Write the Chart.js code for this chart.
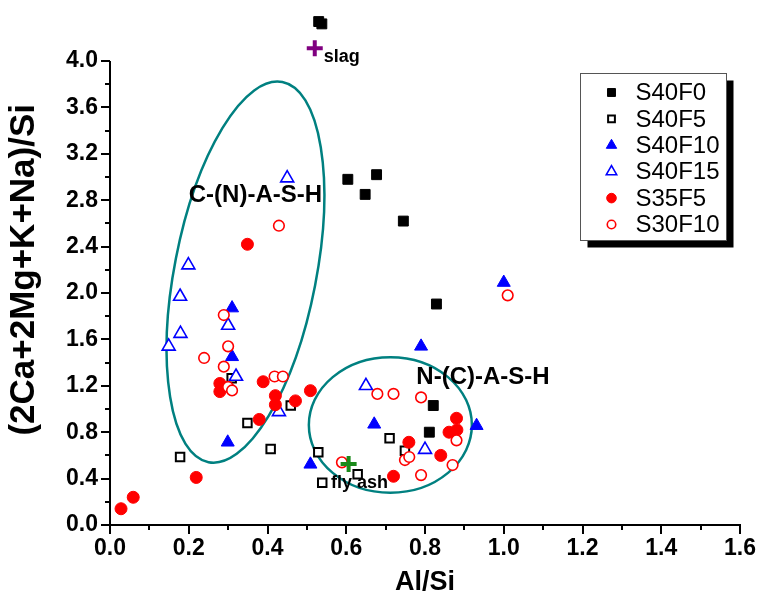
<!DOCTYPE html>
<html>
<head>
<meta charset="utf-8">
<script src="https://cdn.jsdelivr.net/npm/chart.js@4.4.1/dist/chart.umd.min.js"></script>
<style>
  html, body { margin: 0; padding: 0; background: #fff; }
  canvas { display: block; }
</style>
</head>
<body>
<canvas id="chart" width="766" height="602"></canvas>
<script>
// values (Al/Si vs (2Ca+2Mg+K+Na)/Si)
const s40f0X = [0.530, 0.538, 0.604, 0.677, 0.648, 0.745, 0.829, 0.821, 0.811];
const s40f0Y = [4.34, 4.32, 2.98, 3.02, 2.85, 2.62, 1.905, 1.03, 0.80];

const s40f5X = [0.178, 0.349, 0.408, 0.459, 0.309, 0.529, 0.539, 0.629, 0.710, 0.749];
const s40f5Y = [0.586, 0.88, 0.655, 1.03, 1.265, 0.627, 0.365, 0.437, 0.747, 0.64];

const s40f10X = [0.310, 0.310, 0.299, 0.509, 0.671, 0.79, 1.0, 0.931];
const s40f10Y = [1.87, 1.45, 0.713, 0.523, 0.868, 1.54, 2.09, 0.856];

const s40f15X = [0.45, 0.199, 0.178, 0.179, 0.149, 0.30, 0.32, 0.429, 0.65, 0.80];
const s40f15Y = [2.99, 2.24, 1.97, 1.65, 1.54, 1.72, 1.28, 0.975, 1.20, 0.65];

const s35f5X = [0.349, 0.279, 0.279, 0.389, 0.42, 0.42, 0.471, 0.509, 0.379, 0.219, 0.059, 0.028, 0.759, 0.84, 0.72, 0.88, 0.861, 0.881];
const s35f5Y = [2.42, 1.22, 1.15, 1.235, 1.115, 1.037, 1.07, 1.158, 0.91, 0.41, 0.239, 0.14, 0.713, 0.60, 0.42, 0.92, 0.80, 0.82];

const s30f10X = [0.429, 0.289, 0.30, 0.239, 0.289, 0.30, 0.31, 0.418, 0.439, 0.589, 0.679, 0.72, 0.79, 0.88, 0.749, 0.76, 0.87, 0.79, 1.01];
const s30f10Y = [2.58, 1.81, 1.54, 1.44, 1.365, 1.19, 1.16, 1.28, 1.28, 0.54, 1.13, 1.13, 1.10, 0.73, 0.56, 0.586, 0.517, 0.43, 1.98];

// raw materials
const slagPoint = [0.52, 4.11];
const flyAshPoint = [0.606, 0.526];

// labels
const seriesNames = ['S40F0', 'S40F5', 'S40F10', 'S40F15', 'S35F5', 'S30F10'];
const textLabels = ['C-(N)-A-S-H', 'N-(C)-A-S-H', 'slag', 'fly ash'];
const textX = [0.20, 0.778, 0.543, 0.561];
const textY = [2.84, 1.276, 4.03, 0.362];

// gel regions: centre x, centre y, radius (x units), radius (y units), tilt in degrees
const ellipseCx = [0.344, 0.712];
const ellipseCy = [2.18, 0.862];
const ellipseRx = [0.180, 0.207];
const ellipseRy = [1.669, 0.584];
const ellipseTilt = [11, 0];

// axis: start, end, labelled step. y room above 4.0 keeps the top points visible
const xTicks = [0.0, 1.6, 0.2];
const yTicks = [0.0, 4.0, 0.4];
const yRoom = 4.4;

function pts(xs, ys) {
    return xs.map((x, i) => ({ x: x, y: ys[i] }));
}

const styles = [
    { pointStyle: 'rect', radius: 7, bg: '#000', border: '#000', bw: 1 },
    { pointStyle: 'rect', radius: 6, bg: '#fff', border: '#000', bw: 2 },
    { pointStyle: 'triangle', radius: 7.5, bg: '#0000ff', border: '#0000ff', bw: 1 },
    { pointStyle: 'triangle', radius: 7.5, bg: '#fff', border: '#0000ff', bw: 1.6 },
    { pointStyle: 'circle', radius: 6, bg: '#ff0000', border: '#ff0000', bw: 1 },
    { pointStyle: 'circle', radius: 5.3, bg: '#fff', border: '#ff0000', bw: 1.6 }
];
const seriesData = [
    pts(s40f0X, s40f0Y),
    pts(s40f5X, s40f5Y),
    pts(s40f10X, s40f10Y),
    pts(s40f15X, s40f15Y),
    pts(s35f5X, s35f5Y),
    pts(s30f10X, s30f10Y)
];

const datasets = seriesNames.map((name, i) => ({
    label: name,
    data: seriesData[i],
    pointStyle: styles[i].pointStyle,
    pointRadius: styles[i].radius,
    pointBackgroundColor: styles[i].bg,
    pointBorderColor: styles[i].border,
    pointBorderWidth: styles[i].bw,
    showLine: false,
    clip: false,
    order: seriesNames.length - i + 1
}));

datasets.push({
    label: 'slag',
    data: [{ x: slagPoint[0], y: slagPoint[1] }],
    pointStyle: 'cross',
    pointRadius: 8,
    pointBorderColor: '#800080',
    pointBorderWidth: 4,
    clip: false,
    order: 0
});
datasets.push({
    label: 'fly ash',
    data: [{ x: flyAshPoint[0], y: flyAshPoint[1] }],
    pointStyle: 'cross',
    pointRadius: 8,
    pointBorderColor: '#1a8a1a',
    pointBorderWidth: 4,
    clip: false,
    order: 0
});

// ellipses drawn under the markers
const ellipsePlugin = {
    id: 'ellipses',
    beforeDatasetsDraw(chart) {
        const ctx = chart.ctx;
        const xs = chart.scales.x, ys = chart.scales.y;
        ctx.save();
        ctx.strokeStyle = '#008080';
        ctx.lineWidth = 2.5;
        for (let i = 0; i < ellipseCx.length; i++) {
            const cx = xs.getPixelForValue(ellipseCx[i]);
            const cy = ys.getPixelForValue(ellipseCy[i]);
            const rx = xs.getPixelForValue(ellipseRx[i]) - xs.getPixelForValue(0);
            const ry = ys.getPixelForValue(0) - ys.getPixelForValue(ellipseRy[i]);
            ctx.beginPath();
            ctx.ellipse(cx, cy, rx, ry, ellipseTilt[i] * Math.PI / 180, 0, Math.PI * 2);
            ctx.stroke();
        }
        ctx.restore();
    }
};

// y axis line (only up to 4.0) plus major + minor tick marks, outward
const ticksPlugin = {
    id: 'tickMarks',
    afterDraw(chart) {
        const ctx = chart.ctx;
        const xs = chart.scales.x, ys = chart.scales.y;
        const area = chart.chartArea;
        ctx.save();
        ctx.strokeStyle = '#000';
        ctx.lineWidth = 2;
        ctx.beginPath();
        ctx.moveTo(area.left, ys.getPixelForValue(yTicks[0]) + 1);
        ctx.lineTo(area.left, ys.getPixelForValue(yTicks[1]));
        const nx = Math.round((xTicks[1] - xTicks[0]) / (xTicks[2] / 2));
        for (let i = 0; i <= nx; i++) {
            const px = Math.round(xs.getPixelForValue(xTicks[0] + i * xTicks[2] / 2));
            const len = i % 2 === 0 ? 9 : 5;
            ctx.moveTo(px, area.bottom);
            ctx.lineTo(px, area.bottom + len);
        }
        const ny = Math.round((yTicks[1] - yTicks[0]) / (yTicks[2] / 2));
        for (let i = 0; i <= ny; i++) {
            const py = Math.round(ys.getPixelForValue(yTicks[0] + i * yTicks[2] / 2));
            const len = i % 2 === 0 ? 9 : 5;
            ctx.moveTo(area.left, py);
            ctx.lineTo(area.left - len, py);
        }
        ctx.stroke();
        ctx.restore();
    }
};

// region names and raw material labels
const textPlugin = {
    id: 'texts',
    afterDatasetsDraw(chart) {
        const ctx = chart.ctx;
        const xs = chart.scales.x, ys = chart.scales.y;
        ctx.save();
        ctx.fillStyle = '#000';
        ctx.textAlign = 'left';
        ctx.textBaseline = 'middle';
        textLabels.forEach((t, i) => {
            ctx.font = i < 2 ? 'bold 24px "Liberation Sans", Arial, sans-serif'
                             : 'bold 18px "Liberation Sans", Arial, sans-serif';
            ctx.fillText(t, xs.getPixelForValue(textX[i]), ys.getPixelForValue(textY[i]));
        });
        ctx.restore();
    }
};

// boxed legend with drop shadow
const legendPlugin = {
    id: 'boxLegend',
    afterDraw(chart) {
        const ctx = chart.ctx;
        const bx = 580.5, by = 73.5, bw = 146, bh = 167;
        ctx.save();
        ctx.fillStyle = '#000';
        ctx.fillRect(bx + 7, by + 7, bw, bh);
        ctx.fillStyle = '#fff';
        ctx.fillRect(bx, by, bw, bh);
        ctx.strokeStyle = '#555';
        ctx.lineWidth = 1;
        ctx.strokeRect(bx, by, bw, bh);
        ctx.font = '24px "Liberation Sans", Arial, sans-serif';
        ctx.textBaseline = 'middle';
        ctx.textAlign = 'left';
        seriesNames.forEach((name, i) => {
            const y = by + 19 + i * 26.4;
            const s = styles[i];
            ctx.fillStyle = s.bg;
            ctx.strokeStyle = s.border;
            ctx.lineWidth = s.bw;
            Chart.helpers.drawPoint(ctx, {
                pointStyle: s.pointStyle,
                radius: s.radius * 0.8,
                rotation: 0,
                borderWidth: s.bw
            }, bx + 31, y);
            ctx.fillStyle = '#000';
            ctx.fillText(name, bx + 55, y + 1);
        });
        ctx.restore();
    }
};

const tickFont = { family: '"Liberation Sans", Arial, sans-serif', size: 23, weight: 'bold' };

new Chart(document.getElementById('chart'), {
    type: 'scatter',
    data: { datasets: datasets },
    options: {
        responsive: false,
        animation: false,
        devicePixelRatio: 1,
        layout: { padding: { top: 14.6, right: 22, left: 0, bottom: 0 } },
        plugins: {
            legend: { display: false },
            tooltip: { enabled: false }
        },
        scales: {
            x: {
                type: 'linear',
                min: xTicks[0],
                max: xTicks[1],
                afterFit: s => { s.height = 77; },
                grid: { display: false, drawTicks: false },
                border: { display: true, color: '#000', width: 2 },
                ticks: {
                    stepSize: xTicks[2],
                    color: '#000',
                    font: tickFont,
                    padding: 10,
                    maxRotation: 0,
                    callback: v => v.toFixed(1)
                },
                title: {
                    display: true,
                    text: 'Al/Si',
                    color: '#000',
                    font: { family: '"Liberation Sans", Arial, sans-serif', size: 27, weight: 'bold' },
                    padding: { top: 0, bottom: 3 }
                }
            },
            y: {
                type: 'linear',
                min: yTicks[0],
                max: yRoom,
                afterFit: s => {
                    s.width = 110;
                    s.paddingTop = 0;
                    s.paddingBottom = 0;
                },
                afterBuildTicks: s => {
                    s.ticks = s.ticks.filter(t => t.value <= yTicks[1] + 1e-9);
                },
                grid: { display: false, drawTicks: false },
                border: { display: false },
                ticks: {
                    stepSize: yTicks[2],
                    color: '#000',
                    font: tickFont,
                    padding: 12,
                    callback: v => v.toFixed(1)
                },
                title: {
                    display: true,
                    text: '(2Ca+2Mg+K+Na)/Si',
                    color: '#000',
                    font: { family: '"Liberation Sans", Arial, sans-serif', size: 35, weight: 'bold' },
                    padding: { top: 3, bottom: 0 }
                }
            }
        }
    },
    plugins: [ellipsePlugin, ticksPlugin, textPlugin, legendPlugin]
});
</script>
</body>
</html>
